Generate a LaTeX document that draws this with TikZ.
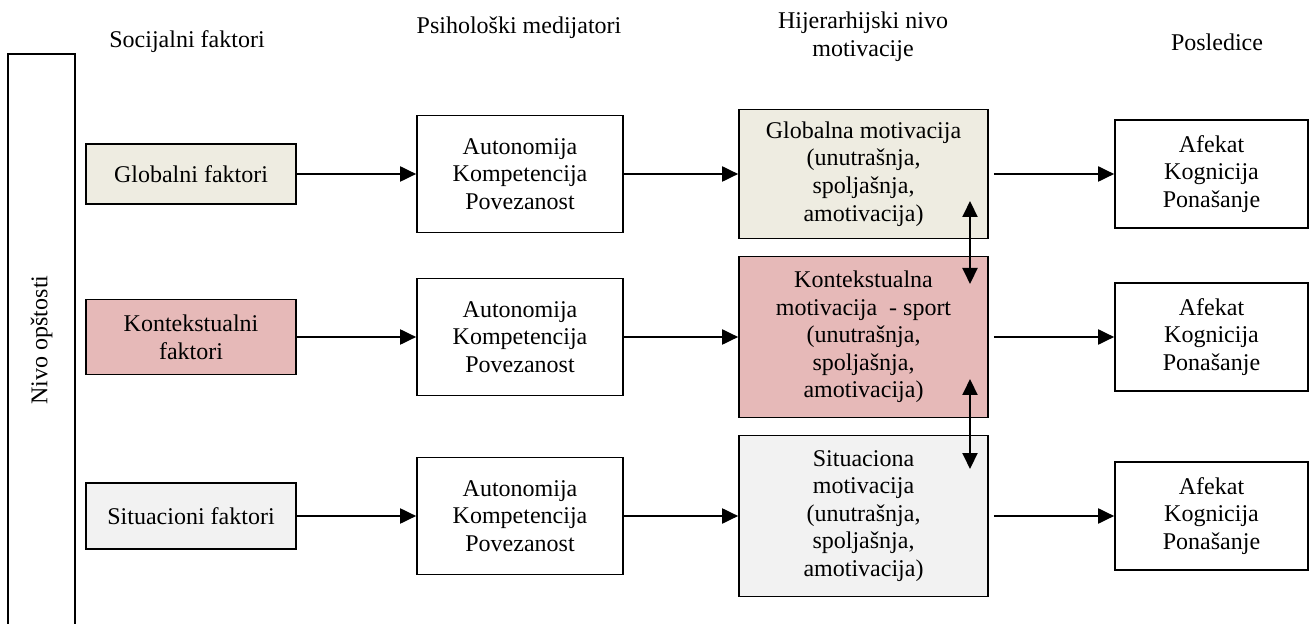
\documentclass[tikz,border=0pt]{standalone}
\usepackage{fontspec}
\setmainfont{Liberation Serif}
\usetikzlibrary{arrows.meta}
\definecolor{cglob}{HTML}{EEECE1}
\definecolor{ckont}{HTML}{E6B9B8}
\definecolor{csit}{HTML}{F2F2F2}
\begin{document}
\begin{tikzpicture}[x=0.5pt,y=-0.5pt,
 box/.style={draw=black, line width=0.85pt, align=center, inner sep=0pt, font=\fontsize{12}{13.8}\selectfont},
 hdr/.style={align=center, inner sep=0pt, font=\fontsize{12}{13.8}\selectfont},
 social/.style={box, minimum width=105pt},
 medi/.style={box, minimum width=103pt, minimum height=58.5pt},
 moti/.style={box, minimum width=124.5pt},
 posl/.style={box, minimum width=96.5pt, minimum height=54pt},
 arr/.style={line width=1pt, -{Triangle[length=8pt,width=7.5pt]}},
 darr/.style={line width=1pt, {Triangle[length=8pt,width=7.5pt]}-{Triangle[length=8pt,width=7.5pt]}}]
\useasboundingbox (0,0) rectangle (1309,624);
\clip (0,0) rectangle (1309,624);
\fill[white] (0,0) rectangle (1309,624);

\node[box, rotate=90, minimum width=286pt, minimum height=33.5pt] (nivo) at (41.5,340) {Nivo opštosti};

% headers
\node[hdr] (h1) at (187,42) {Socijalni faktori};
\node[hdr] (h2) at (519,28) {Psihološki medijatori};
\node[hdr] (h3) at (863,36.5) {Hijerarhijski nivo\\motivacije};
\node[hdr] (h4) at (1217,42) {Posledice};

% social factors
\node[social, fill=cglob, minimum height=30pt] (sg) at (191,174) {Globalni faktori};
\node[social, fill=ckont, minimum height=37.5pt] (sk) at (191,337) {Kontekstualni\\faktori};
\node[social, fill=csit, minimum height=33pt] (ss) at (191,516) {Situacioni faktori};

% mediators
\node[medi] (m1) at (520,174) {Autonomija\\Kompetencija\\Povezanost};
\node[medi] (m2) at (520,337) {Autonomija\\Kompetencija\\Povezanost};
\node[medi] (m3) at (520,516) {Autonomija\\Kompetencija\\Povezanost};

% motivation
\node[moti, fill=cglob, minimum height=64.5pt] (g1) at (863.5,174) {Globalna motivacija\\(unutrašnja,\\spoljašnja,\\amotivacija)};
\node[moti, fill=ckont, minimum height=80.5pt] (g2) at (863.5,337) {Kontekstualna\\motivacija \ - sport\\(unutrašnja,\\spoljašnja,\\amotivacija)};
\node[moti, fill=csit, minimum height=80.5pt] (g3) at (863.5,516) {Situaciona\\motivacija\\(unutrašnja,\\spoljašnja,\\amotivacija)};

% consequences
\node[posl] (p1) at (1211.5,174) {Afekat\\Kognicija\\Ponašanje};
\node[posl] (p2) at (1211.5,337) {Afekat\\Kognicija\\Ponašanje};
\node[posl] (p3) at (1211.5,516) {Afekat\\Kognicija\\Ponašanje};

% horizontal arrows
\foreach \i in {1,2,3}{
  \draw[arr] (m\i) -- (g\i);
  \draw[arr, shorten <=2.5pt] (g\i) -- (p\i);
}
\draw[arr] (sg) -- (m1);
\draw[arr] (sk) -- (m2);
\draw[arr] (ss) -- (m3);

% vertical double arrows
\coordinate (v1t) at (970,201);
\coordinate (v1b) at (970,284);
\coordinate (v2t) at (970,379);
\coordinate (v2b) at (970,469);
\draw[darr] (v1t) -- (v1b);
\draw[darr] (v2t) -- (v2b);
\end{tikzpicture}
\end{document}
